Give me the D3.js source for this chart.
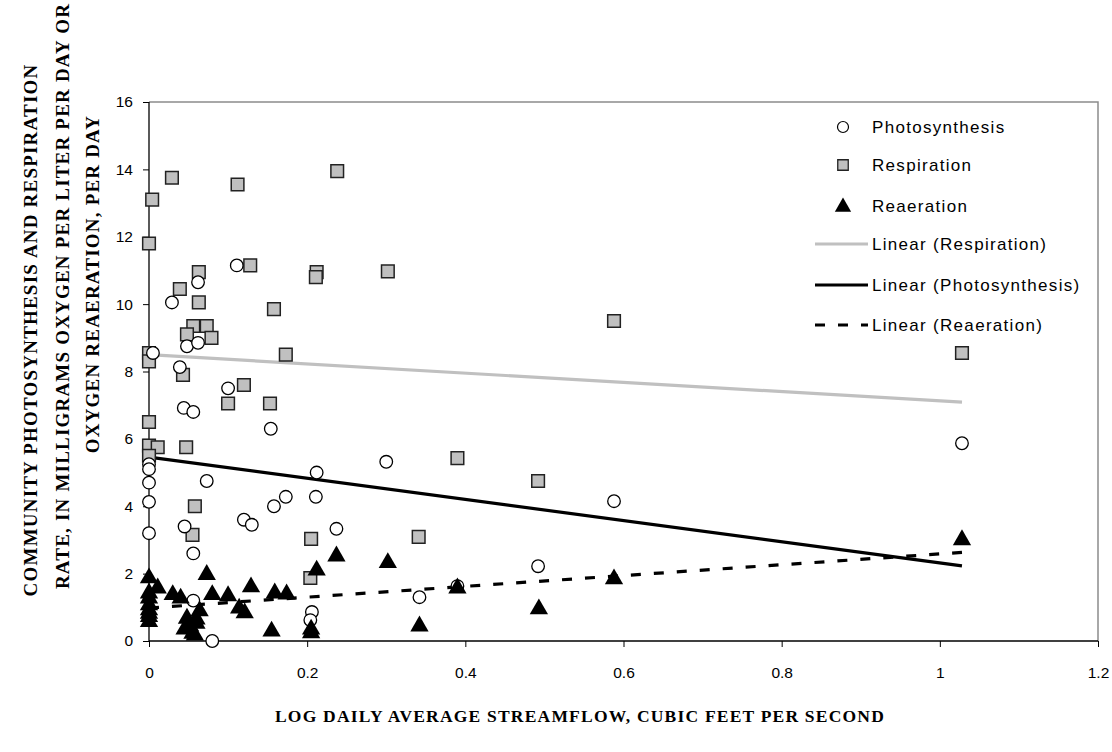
<!DOCTYPE html>
<html lang="en">
<head>
<meta charset="utf-8">
<title>streamflow</title>
<script src="https://cdn.jsdelivr.net/npm/d3@7"></script>
<style>
body { margin: 0; background: #fff; }
.tick text { font-family: "Liberation Sans", Arial, sans-serif; font-size: 15.5px; fill: #000; }
.ttl { font-family: "Liberation Serif", serif; font-weight: bold; fill: #000; }
.leg { font-family: "Liberation Sans", Arial, sans-serif; font-size: 17px; letter-spacing: 1.3px; fill: #000; }
</style>
</head>
<body>
<div id="chart"></div>
<script>
// values
var photoX = [0.111,0.062,0.029,0.048,0.062,0.005,0.039,0.1,0.044,0.056,0.154,0,0,0,0,0,0.073,0.158,0.173,0.12,0.13,0.045,0.056,0.056,0.08,0.212,0.211,0.237,0.3,0.342,0.39,0.492,0.206,0.204,0.588,1.028]
var photoY = [11.15,10.65,10.05,8.75,8.85,8.55,8.13,7.5,6.92,6.8,6.3,5.25,5.1,4.7,4.13,3.2,4.75,4.0,4.28,3.6,3.45,3.4,2.6,1.2,0.0,5.0,4.28,3.33,5.32,1.3,1.63,2.22,0.86,0.62,4.15,5.87]

var respX = [0,0.004,0.029,0.112,0.238,0.128,0.063,0.039,0.063,0.158,0.056,0.073,0.048,0.079,0,0,0.173,0.212,0.211,0.302,0.588,1.028,0.043,0.12,0.1,0.153,0,0,0.011,0.047,0,0.058,0.055,0.205,0.341,0.39,0.492,0.204]
var respY = [11.8,13.1,13.75,13.55,13.95,11.15,10.95,10.45,10.05,9.85,9.35,9.35,9.1,9.0,8.55,8.3,8.5,10.95,10.8,10.97,9.5,8.55,7.9,7.6,7.05,7.05,6.5,5.8,5.75,5.75,5.5,4.0,3.15,3.03,3.09,5.43,4.75,1.87]

var reaerX = [0,0,0,0,0,0,0,0,0.011,0.03,0.04,0.073,0.08,0.1,0.129,0.114,0.121,0.064,0.06,0.048,0.045,0.055,0.052,0.06,0.058,0.159,0.174,0.155,0.205,0.205,0.212,0.237,0.302,0.342,0.39,0.493,0.588,1.028]
var reaerY = [1.9,1.45,1.3,1.1,0.95,0.85,0.75,0.6,1.6,1.4,1.3,2.0,1.4,1.37,1.63,1.0,0.86,0.92,0.68,0.7,0.38,0.25,0.47,0.55,0.2,1.45,1.42,0.32,0.38,0.27,2.13,2.55,2.35,0.47,1.6,0.98,1.87,3.03]

// trend line ends (x = 0 and x = 1.028)
var trendX = [0,1.028]
var respTrend = [8.5,7.09]
var photoTrend = [5.46,2.23]
var reaerTrend = [0.98,2.63]

var xTicks = [0,0.2,0.4,0.6,0.8,1,1.2]
var yTicks = [0,2,4,6,8,10,12,14,16]
var legendNames = ["Photosynthesis","Respiration","Reaeration","Linear (Respiration)","Linear (Photosynthesis)","Linear (Reaeration)"]

var W = 1112, H = 752
var m = {left:149, right:14, top:102, bottom:111}

var svg = d3.select("#chart").append("svg")
    .attr("width",W).attr("height",H)

var x = d3.scaleLinear().domain([0,1.2]).range([m.left, W-m.right])
var y = d3.scaleLinear().domain([0,16]).range([H-m.bottom, m.top])

// plot area border (grey top/right)
svg.append("path")
    .attr("d","M"+x(0)+","+y(16)+"H"+x(1.2)+"V"+y(0))
    .attr("fill","none").attr("stroke","#8c8c8c").attr("stroke-width",1.5)

var xAxis = svg.append("g")
    .attr("transform","translate(0,"+y(0)+")")
    .call(d3.axisBottom(x).tickValues(xTicks).tickFormat(d3.format("~g")).tickSize(6).tickPadding(20))
var yAxis = svg.append("g")
    .attr("transform","translate("+x(0)+",0)")
    .call(d3.axisLeft(y).tickValues(yTicks).tickSize(6).tickPadding(10))
svg.selectAll(".domain").attr("stroke","#000").attr("stroke-width",1.3)
svg.selectAll(".tick line").attr("stroke","#000")
yAxis.selectAll(".domain").attr("d","M0,"+y(0)+"V"+y(16))
xAxis.selectAll(".domain").attr("d","M"+x(0)+",0H"+x(1.2))

// trend lines
var line = d3.line().x(function(d){ return x(d[0]) }).y(function(d){ return y(d[1]) })
function trend(vals, color, dash){
    svg.append("path")
        .datum(d3.zip(trendX, vals))
        .attr("d", line)
        .attr("fill","none")
        .attr("stroke",color)
        .attr("stroke-width",3.2)
        .attr("stroke-dasharray",dash)
}
trend(respTrend,"#c0c0c0",null)
trend(photoTrend,"#000",null)
trend(reaerTrend,"#000","10,13")

var sq = d3.symbol().type(d3.symbolSquare).size(160)
var tri = d3.symbol().type(d3.symbolTriangle).size(145)

svg.selectAll(".resp")
    .data(d3.zip(respX,respY))
    .enter().append("path")
    .attr("class","resp")
    .attr("d",sq)
    .attr("transform",function(d){ return "translate("+x(d[0])+","+y(d[1])+")" })
    .attr("fill","#c0c0c0").attr("stroke","#222").attr("stroke-width",1.5)

svg.selectAll(".photo")
    .data(d3.zip(photoX,photoY))
    .enter().append("circle")
    .attr("class","photo")
    .attr("cx",function(d){ return x(d[0]) })
    .attr("cy",function(d){ return y(d[1]) })
    .attr("r",6.3)
    .attr("fill","#fff").attr("stroke","#000").attr("stroke-width",1.3)

svg.selectAll(".reaer")
    .data(d3.zip(reaerX,reaerY))
    .enter().append("path")
    .attr("class","reaer")
    .attr("d",tri)
    .attr("transform",function(d){ return "translate("+x(d[0])+","+(y(d[1])+1)+")" })
    .attr("fill","#000")

// legend
var legY = [127,165,206,244,285,325]
var lg = svg.append("g")
legendNames.forEach(function(n,i){
    lg.append("text").attr("class","leg")
        .attr("x",872).attr("y",legY[i]).attr("dy","0.35em")
        .text(n)
})
lg.append("circle").attr("cx",843).attr("cy",legY[0]).attr("r",5.5)
    .attr("fill","#fff").attr("stroke","#000").attr("stroke-width",1.2)
lg.append("path").attr("d",d3.symbol().type(d3.symbolSquare).size(110))
    .attr("transform","translate(843,"+legY[1]+")")
    .attr("fill","#c0c0c0").attr("stroke","#222").attr("stroke-width",1.3)
lg.append("path").attr("d",d3.symbol().type(d3.symbolTriangle).size(115))
    .attr("transform","translate(843,"+(legY[2]+1)+")")
    .attr("fill","#000")
var legLines = [["#c0c0c0",null],["#000",null],["#000","10,13"]]
legLines.forEach(function(s,i){
    lg.append("line")
        .attr("x1",815).attr("x2",868)
        .attr("y1",legY[3+i]).attr("y2",legY[3+i])
        .attr("stroke",s[0]).attr("stroke-width",3.2)
        .attr("stroke-dasharray",s[1])
})

// axis titles
svg.append("text").attr("class","ttl")
    .attr("x",580).attr("y",722)
    .attr("text-anchor","middle").style("font-size","17.5px").style("letter-spacing","1.2px")
    .text("LOG DAILY AVERAGE STREAMFLOW, CUBIC FEET PER SECOND")

var yTitle = ["COMMUNITY PHOTOSYNTHESIS AND RESPIRATION",
              "RATE, IN MILLIGRAMS OXYGEN PER LITER PER DAY OR",
              "OXYGEN REAERATION, PER DAY"]
var yMid = [330, 296, 284]
var yBase = [37, 69, 99]
yTitle.forEach(function(t,i){
    svg.append("text").attr("class","ttl")
        .attr("transform","translate("+yBase[i]+","+yMid[i]+") rotate(-90)")
        .attr("text-anchor","middle")
        .style("font-size","19px").style("letter-spacing","1.2px")
        .text(t)
})
</script>
</body>
</html>
